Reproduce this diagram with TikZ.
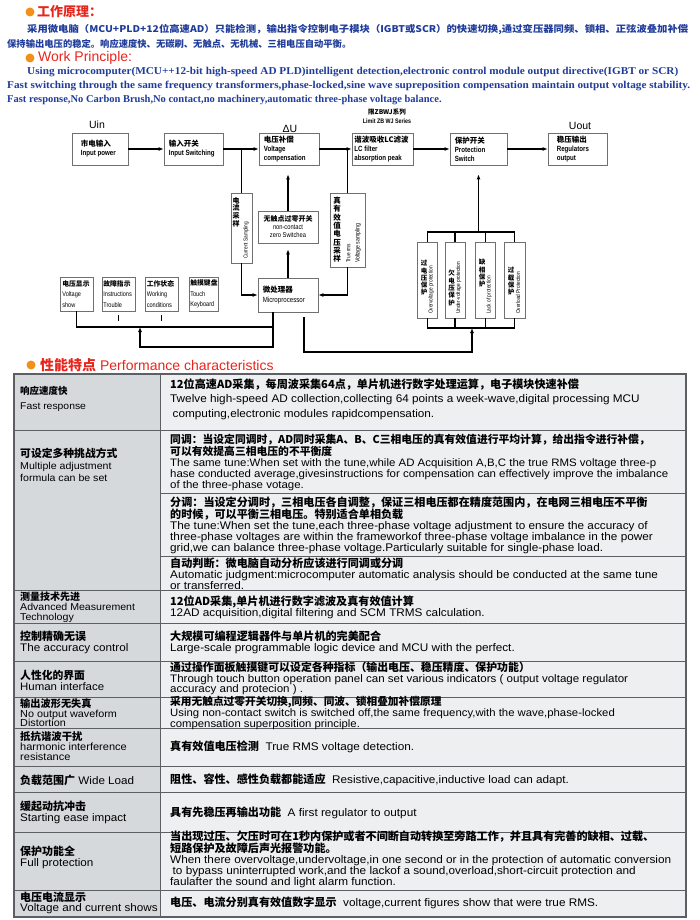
\documentclass[tikz,border=0pt]{standalone}
\usepackage{fontspec}
\usepackage{graphicx}
\setmainfont{Liberation Serif}
\setsansfont{Liberation Sans}
\newfontfamily\cjk{Noto Sans CJK SC}
\newfontfamily\nsans{Liberation Sans}[FakeStretch=0.82]
\newfontfamily\tsans{Liberation Sans}[FakeStretch=1.06]
\usetikzlibrary{arrows.meta}

\definecolor{hdblue}{HTML}{1F3C9A}
\definecolor{hdred}{HTML}{E8251C}
\definecolor{dotorg}{HTML}{F39019}
\definecolor{boxgray}{HTML}{707070}
\definecolor{lcol}{HTML}{D6D9DC}
\definecolor{rcol}{HTML}{EDEFF1}
\definecolor{rulegray}{HTML}{5C6064}

\newcommand\zh[1]{{\cjk\bfseries #1}}
\newcommand\fitto[2]{\resizebox{#1}{\height}{#2}}

\begin{document}
\begin{tikzpicture}[x=1pt,y=-1pt,>={Latex[length=5pt,width=4pt]},
  blk/.style={draw=boxgray,line width=0.7pt,fill=white,inner sep=0pt},
  btxt/.style={anchor=west,align=left,inner sep=0pt,font=\nsans\bfseries\fontsize{7.5}{9}\selectfont},
  dtxt/.style={anchor=west,align=left,inner sep=0pt,font=\nsans\fontsize{6.8}{10.5}\selectfont},
  vzh/.style={anchor=north,align=center,inner sep=0pt,font=\cjk\bfseries\fontsize{6.5}{7.3}\selectfont},
  ven/.style={rotate=90,anchor=west,inner sep=0pt,font=\nsans\fontsize{5.8}{6}\selectfont},
  lbl/.style={inner sep=0pt,font=\sffamily\fontsize{10.5}{12}\selectfont},
  wire/.style={line width=1.2pt},
  hdzh/.style={anchor=west,inner sep=0pt,text=hdblue,font=\cjk\bfseries\fontsize{9.3}{11}\selectfont},
  hden/.style={anchor=west,inner sep=0pt,text=hdblue,font=\rmfamily\bfseries\fontsize{10.5}{12}\selectfont},
  lcell/.style={anchor=west,align=left,inner sep=0pt,font=\tsans\fontsize{11}{11}\selectfont},
  rcell/.style={anchor=west,align=left,inner sep=0pt,font=\tsans\fontsize{11.1}{11}\selectfont}]
\useasboundingbox (0,0) rectangle (700,920);

% work principle text
\fill[dotorg] (30,12) circle[radius=4.5pt];
\node[anchor=west,inner sep=0pt,text=hdred,font=\cjk\bfseries\fontsize{13}{14}\selectfont] (ttlzh) at (37,12) {工作原理：};
\node[hdzh] (zh1) at (27,29) {\fitto{661pt}{采用微电脑（MCU+PLD+12位高速AD）只能检测，输出指令控制电子模块（IGBT或SCR）的快速切换,通过变压器同频、锁相、正弦波叠加补偿}};
\node[hdzh] (zh2) at (7,44) {保持输出电压的稳定。响应速度快、无碳刷、无触点、无机械、三相电压自动平衡。};
\fill[dotorg] (30,58) circle[radius=4.5pt];
\node[anchor=west,inner sep=0pt,text=hdred,font=\sffamily\fontsize{14}{16}\selectfont] (ttlen) at (38,58) {Work Principle:};
\node[hden] (en1) at (27,72) {\fitto{651pt}{Using microcomputer(MCU++12-bit high-speed AD PLD)intelligent detection,electronic control module output directive(IGBT or SCR)}};
\node[hden] (en2) at (7,86) {\fitto{683pt}{Fast switching through the same frequency transformers,phase-locked,sine wave supreposition compensation maintain output voltage stability.}};
\node[hden] (en3) at (7,100) {Fast response,No Carbon Brush,No contact,no machinery,automatic three-phase voltage balance.};

% block diagram, main chain
\node[inner sep=0pt,align=center,font=\nsans\bfseries\fontsize{6.5}{9}\selectfont] (series) at (387,116) {\zh{限ZBWJ系列}\\Limit ZB WJ Series};
\node[lbl] (uin) at (97,125) {Uin};
\node[lbl] (du) at (290,129) {ΔU};
\node[lbl] (uout) at (580,126) {Uout};

\node[blk,minimum width=56,minimum height=32] (inp) at (100,149) {};
\node[btxt] (inpT) at ([xshift=9]inp.west) {\zh{市电输入}\\Input power};
\node[blk,minimum width=59,minimum height=32] (isw) at (193.5,149) {};
\node[btxt] (iswT) at ([xshift=5]isw.west) {\zh{输入开关}\\Input Switching};
\node[blk,minimum width=60,minimum height=32] (comp) at (289,149) {};
\node[btxt] (compT) at ([xshift=5]comp.west) {\zh{电压补偿}\\Voltage\\compensation};
\node[blk,minimum width=61,minimum height=32] (lcf) at (382.5,149) {};
\node[btxt] (lcfT) at ([xshift=2.5]lcf.west) {\zh{谐波吸收LC滤波}\\LC filter\\absorption peak};
\node[blk,minimum width=57,minimum height=32] (psw) at (478.5,149) {};
\node[btxt] (pswT) at ([xshift=5]psw.west) {\zh{保护开关}\\Protection\\Switch};
\node[blk,minimum width=59,minimum height=32] (out) at (577.5,149) {};
\node[btxt] (outT) at ([xshift=9]out.west) {\zh{稳压输出}\\Regulators\\output};

\draw[->,wire] (inp) -- (isw);
\draw[->,wire] (isw) -- (comp);
\draw[->,wire] (comp) -- (lcf);
\draw[->,wire] (lcf) -- (psw);
\draw[->,wire] (psw) -- (out);

% sampling, zero switch and processor
\node[blk,minimum width=21,minimum height=70] (cur) at (241.5,228) {};
\node[vzh,font=\cjk\bfseries\fontsize{7}{7.8}\selectfont] (curZ) at (236,197) {电\\流\\采\\样};
\node[ven] (curE) at (246,259) {Current Sampling};
\node[blk,minimum width=60,minimum height=32] (zero) at (288,227) {};
\node[inner sep=0pt,align=center,font=\nsans\fontsize{7}{8}\selectfont] (zeroT) at (zero) {\zh{无触点过零开关}\\non-contact\\zero Switchea};
\node[blk,minimum width=35,minimum height=74] (rms) at (347.5,230) {};
\node[vzh,font=\cjk\bfseries\fontsize{7.5}{8.3}\selectfont] (rmsZ) at (337,197) {真\\有\\效\\值\\电\\压\\采\\样};
\node[ven] (rmsE) at (348.5,263) {True rms};
\node[ven,font=\nsans\fontsize{6.3}{6}\selectfont] (rmsV) at (358,263) {Voltage sampling};
\node[blk,minimum width=60,minimum height=34] (mcu) at (288,295) {};
\node[btxt,font=\nsans\fontsize{7.5}{10}\selectfont] (mcuT) at ([xshift=5]mcu.west) {\zh{微处理器}\\Microprocessor};

\draw[wire] (cur.north) -- (cur.north |- isw.east);
\draw[wire] (rms.north) -- (rms.north |- lcf.west);
\draw[->,wire,shorten >=9pt] (zero.north) -- (zero.north |- comp.south);
\draw[->,wire,shorten >=6pt] (mcu.north) -- (zero.south);
\draw[->,wire] (cur.south) |- (mcu.west);
\draw[->,wire] (rms.south) |- (mcu.east);

% display and keyboard boxes
\node[blk,minimum width=33,minimum height=34] (dA) at (76.5,294) {};
\node[dtxt] (dAT) at ([xshift=2.5]dA.west) {\zh{电压显示}\\Voltage\\show};
\node[blk,minimum width=33,minimum height=34] (dB) at (118.5,294) {};
\node[dtxt] (dBT) at ([xshift=1.5]dB.west) {\zh{故障指示}\\Instructions\\Trouble};
\node[blk,minimum width=33,minimum height=34] (dC) at (161.5,294) {};
\node[dtxt] (dCT) at ([xshift=2]dC.west) {\zh{工作状态}\\Working\\conditions};
\node[blk,minimum width=29,minimum height=34] (dD) at (203.5,294) {};
\node[dtxt] (dDT) at ([xshift=1.5]dD.west) {\zh{触摸键盘}\\Touch\\Keyboard};

\coordinate (mtap) at ([xshift=-15]mcu.south);
\coordinate (dbus) at (140,327);
\coordinate (mlow) at (140,347);
\draw[wire] (dA.south) |- (mtap |- dbus);
\draw[->,wire] (mtap) |- (mlow) -- (dbus);
\draw[wire] ([yshift=-4pt]dB.south) -- ++(0,6);
\draw[wire] ([yshift=-4pt]dC.south) -- ++(0,6);

% protection group
\node[blk,minimum width=20,minimum height=76] (p1) at (427.5,280) {};
\node[vzh] (p1Z) at (424,260) {过\\电\\压\\保\\护};
\node[ven] (p1E) at (431,314) {Overvoltage protection};
\node[blk,minimum width=20,minimum height=76] (p2) at (455,280) {};
\node[vzh] (p2Z) at (451.5,270) {欠\\电\\压\\保\\护};
\node[ven] (p2E) at (458.5,314) {Under-voltage protection};
\node[blk,minimum width=20,minimum height=76] (p3) at (485.5,280) {};
\node[vzh] (p3Z) at (482,259) {缺\\相\\保\\护};
\node[ven] (p3E) at (489,314) {Lack of protection};
\node[blk,minimum width=21,minimum height=76] (p4) at (514.5,280) {};
\node[vzh] (p4Z) at (511,267) {过\\载\\保\\护};
\node[ven] (p4E) at (518,314) {Overload Protection};

\coordinate (ptop) at (478.5,232);
\coordinate (pbus) at (472,328);
\coordinate (ptap) at ([xshift=16]mcu.south);
\coordinate (plow) at (472,352);
\draw[wire] (p1.north) |- (p4.north |- ptop) -- (p4.north);
\draw[wire] (p2.north) -- (p2.north |- ptop);
\draw[wire] (p3.north) -- (p3.north |- ptop);
\draw[->,wire,shorten >=9pt] (ptop) -- (psw.south);
\draw[wire] (p1.south) |- (p4.south |- pbus) -- (p4.south);
\draw[wire] (p2.south) -- (p2.south |- pbus);
\draw[wire] (p3.south) -- (p3.south |- pbus);
\draw[->,wire,shorten <=5pt] (ptap) |- (plow) -- (pbus);

% performance table
\fill[dotorg] (31,365) circle[radius=4.5pt];
\node[anchor=west,inner sep=0pt,text=hdred,font=\sffamily\fontsize{14}{16}\selectfont] (ttlperf) at (40,365) {\zh{性能特点} Performance characteristics};

\fill[lcol] (14,374) rectangle (160,917);
\fill[rcol] (160,374) rectangle (686,917);
\foreach \y in {430,590,623,661,697,728,766,792,832,890}
  \draw[rulegray,line width=0.9pt] (14,\y) -- (686,\y);
\foreach \y in {493,556}
  \draw[rulegray,line width=0.9pt] (160,\y) -- (686,\y);
\draw[rulegray,line width=0.9pt] (160,374) -- (160,917);
\draw[rulegray,line width=1.2pt] (14,374) rectangle (686,917);

% left column
\node[lcell,font=\tsans\fontsize{9.8}{11}\selectfont] (l1) at (20,398.5) {{\fontsize{9.5}{9}\selectfont\zh{响应速度快}}\\[4pt]Fast response};
\node[lcell,font=\tsans\fontsize{10}{12}\selectfont] (l2) at (20,465) {{\fontsize{10.8}{12}\selectfont\zh{可设定多种挑战方式}}\\Multiple adjustment\\formula can be set};
\node[lcell,font=\tsans\fontsize{10}{10}\selectfont] (l3) at (20,607) {\zh{测量技术先进}\\Advanced Measurement\\Technology};
\node[lcell] (l4) at (20,642.5) {\zh{控制精确无误}\\The accuracy control};
\node[lcell,font=\tsans\fontsize{10.8}{11}\selectfont] (l5) at (20,680) {\zh{人性化的界面}\\Human interface};
\node[lcell,font=\tsans\fontsize{10.2}{9.6}\selectfont] (l6) at (20,713) {\zh{输出波形无失真}\\No output waveform\\Distortion};
\node[lcell,font=\tsans\fontsize{10.4}{10}\selectfont] (l7) at (20,746) {\zh{抵抗谐波干扰}\\harmonic interference\\resistance};
\node[lcell] (l8) at (20,780) {\zh{负载范围广} Wide Load};
\node[lcell] (l9) at (20,812.5) {\zh{缓起动抗冲击}\\Starting ease impact};
\node[lcell] (l10) at (20,857.5) {\zh{保护功能全}\\Full protection};
\node[lcell,font=\tsans\fontsize{11}{10}\selectfont] (l11) at (20,902.5) {\zh{电压电流显示}\\Voltage and current shows};

% right column
\node[rcell] (r1) at (170,399) {\zh{12位高速AD采集，每周波采集64点，单片机进行数字处理运算，电子模块快速补偿}\\[3.5pt]Twelve high-speed AD collection,collecting 64 points a week-wave,digital processing MCU\\[3.5pt]\hspace{2.5pt}computing,electronic modules rapidcompensation.};
\node[rcell,font=\tsans\fontsize{10.8}{11}\selectfont] (r2a) at (170,462) {\zh{同调：当设定同调时，AD同时采集A、B、C三相电压的真有效值进行平均计算，给出指令进行补偿，}\\\zh{可以有效提高三相电压的不平衡度}\\The same tune:When set with the tune,while AD Acquisition A,B,C the true RMS voltage three-p\\hase conducted average,givesinstructions for compensation can effectively improve the imbalance\\of the three-phase votage.};
\node[rcell] (r2b) at (170,525) {\zh{分调：当设定分调时，三相电压各自调整，保证三相电压都在精度范围内，在电网三相电压不平衡}\\\zh{的时候，可以平衡三相电压。特别适合单相负载}\\The tune:When set the tune,each three-phase voltage adjustment to ensure the accuracy of\\three-phase voltages are within the frameworkof three-phase voltage imbalance in the power\\grid,we can balance three-phase voltage.Particularly suitable for single-phase load.};
\node[rcell] (r2c) at (170,573.7) {\zh{自动判断：微电脑自动分析应该进行同调或分调}\\Automatic judgment:microcomputer automatic analysis should be conducted at the same tune\\or transferred.};
\node[rcell] (r3) at (170,607.5) {\zh{12位AD采集,单片机进行数字滤波及真有效值计算}\\12AD acquisition,digital filtering and SCM TRMS calculation.};
\node[rcell] (r4) at (170,642) {\zh{大规模可编程逻辑器件与单片机的完美配合}\\Large-scale programmable logic device and MCU with the perfect.};
\node[rcell,font=\tsans\fontsize{10.9}{10.4}\selectfont] (r5) at (170,678.5) {\zh{通过操作面板触摸键可以设定各种指标（输出电压、稳压精度、保护功能）}\\Through touch button operation panel can set various indicators ( output voltage regulator\\accuracy and protecion ) .};
\node[rcell,font=\tsans\fontsize{10.7}{9.5}\selectfont] (r6) at (170,713) {\zh{采用无触点过零开关切换,同频、同波、锁相叠加补偿原理}\\Using non-contact switch is switched off,the same frequency,with the wave,phase-locked\\compensation superposition principle.};
\node[rcell] (r7) at (170,747) {\zh{真有效值电压检测}\ \ True RMS voltage detection.};
\node[rcell] (r8) at (170,780) {\zh{阻性、容性、感性负载都能适应}\ \ Resistive,capacitive,inductive load can adapt.};
\node[rcell] (r9) at (170,813) {\zh{具有先稳压再输出功能}\ \ A first regulator to output};
\node[rcell] (r10) at (170,859.5) {\zh{当出现过压、欠压时可在1秒内保护或者不间断自动转换至旁路工作，并且具有完善的缺相、过载、}\\\zh{短路保护及故障后声光报警功能。}\\When there overvoltage,undervoltage,in one second or in the protection of automatic conversion\\\hspace{2.5pt}to bypass uninterrupted work,and the lackof a sound,overload,short-circuit protection and\\faulafter the sound and light alarm function.};
\node[rcell] (r11) at (170,902.5) {\zh{电压、电流分别真有效值数字显示}\ \ voltage,current figures show that were true RMS.};
\end{tikzpicture}
\end{document}
